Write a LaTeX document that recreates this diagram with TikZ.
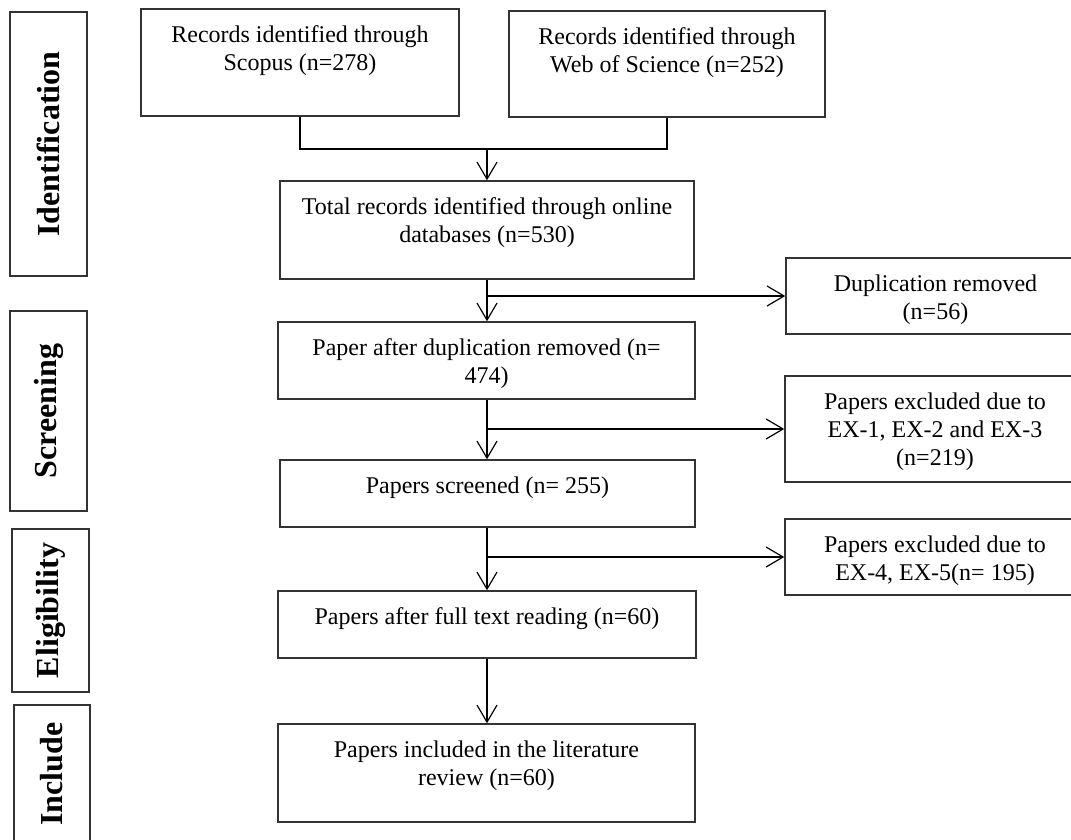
\documentclass[tikz,border=0pt]{standalone}
\usepackage{fontspec}
\setmainfont{Liberation Serif}
\usetikzlibrary{arrows.meta}

\tikzset{
  boxstyle/.style={draw=black!80, line width=1.5pt, inner sep=0pt, rectangle},
  stagelabel/.style={draw=black!80, line width=1.5pt, inner sep=0pt, rectangle, rotate=90,
    font=\fontsize{32}{38}\selectfont\bfseries},
  link/.style={draw=black, line width=1.2pt},
  arr/.style={link, -{Straight Barb[length=17pt, width=20pt]}},
}

% flow box given by left, top, right, bottom (in px, y downwards); text set from the top
\newcommand{\flowbox}[6]{%
  \pgfmathsetmacro{\fbw}{#4-#2}%
  \pgfmathsetmacro{\fbh}{#5-#3}%
  \node[boxstyle, minimum width=\fbw pt, minimum height=\fbh pt] (#1) at ({(#2+#4)/2},{(#3+#5)/2})
    {\parbox[c][\fbh pt][t]{\fbw pt}{\fontsize{24}{28}\selectfont\centering\vspace*{14pt}\strut #6}};%
}
% stage label box with vertical bold text
\newcommand{\stagebox}[6]{%
  \pgfmathsetmacro{\fbw}{#4-#2}%
  \pgfmathsetmacro{\fbh}{#5-#3}%
  \node[stagelabel, minimum width=\fbh pt, minimum height=\fbw pt] (#1) at ({(#2+#4)/2},{(#3+#5)/2}) {#6};%
}

\begin{document}
\begin{tikzpicture}[x=1pt, y=-1pt]
  \useasboundingbox (0,0) rectangle (1071,839);
  \clip (0,0) rectangle (1071,839);
  \fill[white] (0,0) rectangle (1071,839);

  % stage labels
  \stagebox{ident}{10}{12}{87}{276}{Identification}
  \stagebox{screen}{10}{311}{87}{511}{Screening}
  \stagebox{elig}{12}{529}{89}{692}{Eligibility}
  \stagebox{incl}{14}{705}{90}{843}{Include}

  % main flow
  \flowbox{scopus}{141}{9}{459}{116}{Records identified through\\Scopus (n=278)}
  \flowbox{wos}{509}{11}{825}{117}{Records identified through\\Web of Science (n=252)}
  \flowbox{total}{280}{181}{694}{279}{Total records identified through online\\databases (n=530)}
  \flowbox{afterdup}{278}{322}{695}{399}{Paper after duplication removed (n=\\474)}
  \flowbox{screened}{280}{460}{695}{527}{Papers screened (n= 255)}
  \flowbox{fulltext}{278}{591}{696}{658}{Papers after full text reading (n=60)}
  \flowbox{included}{278}{724}{695}{822}{Papers included in the literature\\review (n=60)}

  % exclusions
  \flowbox{dupl}{786}{258}{1085}{334}{Duplication removed\\(n=56)}
  \flowbox{exone}{785}{376}{1085}{482}{Papers excluded due to\\EX-1, EX-2 and EX-3\\(n=219)}
  \flowbox{extwo}{785}{519}{1085}{595}{Papers excluded due to\\EX-4, EX-5(n= 195)}

  % merge of the two databases
  \coordinate (mergey) at (0,149);
  \coordinate (merge) at (total.north |- mergey);
  \draw[link] (scopus.south) |- (merge) -| (wos.south);
  \draw[arr] (merge) -- (total.north);

  % spine with side branches
  \draw[arr] (total.south) -- (total.south |- afterdup.north);
  \draw[arr] (total.south |- dupl.west) -- (dupl.west);
  \draw[arr] (total.south |- afterdup.south) -- (total.south |- screened.north);
  \draw[arr] (total.south |- exone.west) -- (exone.west);
  \draw[arr] (total.south |- screened.south) -- (total.south |- fulltext.north);
  \draw[arr] (total.south |- extwo.west) -- (extwo.west);
  \draw[arr] (total.south |- fulltext.south) -- (total.south |- included.north);
\end{tikzpicture}
\end{document}
